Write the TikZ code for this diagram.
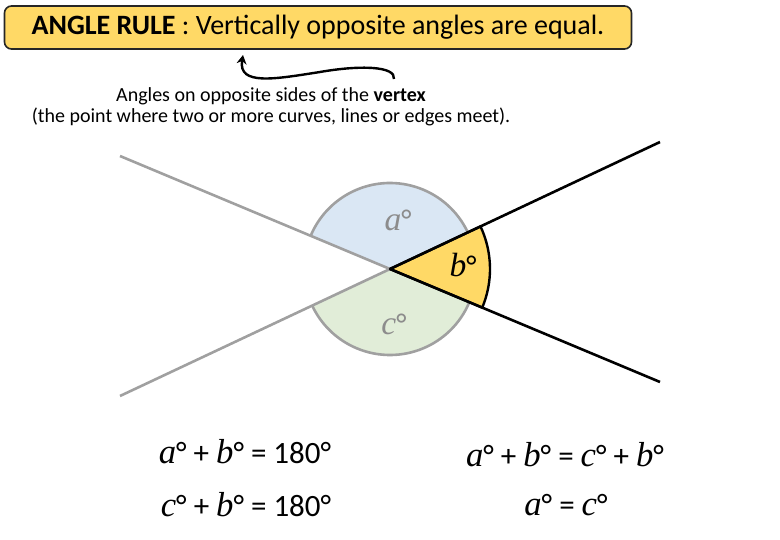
\documentclass[tikz,border=0pt]{standalone}
\usepackage{fontspec}
\setmainfont{Carlito}
\newfontfamily\varfont{Liberation Serif}[Scale=1.12]
\newcommand{\vr}[1]{{\varfont\itshape #1}}
\usetikzlibrary{arrows.meta}
\definecolor{ruleyellow}{HTML}{FFD966}
\definecolor{sectblue}{HTML}{DAE7F4}
\definecolor{sectgreen}{HTML}{E1EDD8}
\definecolor{linegray}{HTML}{A0A0A0}
\definecolor{labelgray}{HTML}{8C8C8C}

\begin{document}
\begin{tikzpicture}[x=1pt,y=-1pt,
		eqn/.style={font=\fontsize{31}{36}\selectfont},
		anglbl/.style={font=\fontsize{30}{34}\selectfont}]
		\useasboundingbox (0,0) rectangle (780,540);
		\coordinate(O) at (390,269);
		\coordinate(A) at (120,156);
		\coordinate(B) at (660,382);
		\coordinate(C) at (120,396);
		\coordinate(D) at (660,142);
		
		\node[draw=black!85,line width=1.6pt,fill=ruleyellow,rounded corners=7pt,minimum width=627pt,minimum height=43pt,font=\fontsize{28}{32}\selectfont](rule) at (318,27.5){\textbf{ANGLE RULE} : Vertically opposite angles are equal.};
		\node[align=center,font=\fontsize{20}{21}\selectfont](note) at (271,107){Angles on opposite sides of the \textbf{vertex}\\(the point where two or more curves, lines or edges meet).};
		\coordinate(S) at (394,79);
		\coordinate(T) at (243,55);
		\draw[line width=2.4pt,-{Stealth[length=9pt,width=10pt]}](S) .. controls (396,66) and (360,65) .. (320,72) .. controls (275,79) and (238,86) .. (T);
		
		\fill[sectblue](O) -- ++(-25.2:86) arc (-25.2:-157.3:86) -- cycle;
		\fill[sectgreen](O) -- ++(22.7:86) arc (22.7:154.8:86) -- cycle;
		\draw[linegray,line width=2.6pt](O) ++(-25.2:86) arc (-25.2:-157.3:86);
		\draw[linegray,line width=2.6pt](O) ++(22.7:86) arc (22.7:154.8:86);
		\draw[linegray,line width=2.6pt](A) -- (O) -- (C);
		\filldraw[fill=ruleyellow,draw=black,line width=2.4pt,line join=round](O) -- ++(-25.2:100) arc (-25.2:22.7:100) -- cycle;
		\draw[black,line width=2.6pt](O) -- (B);
		\draw[black,line width=2.6pt](O) -- (D);
		
		\node[anglbl,labelgray](a) at (398,220){\vr{a}°};
		\node[anglbl](b) at (463,265){\vr{b}°};
		\node[anglbl,labelgray](c) at (394,324){\vr{c}°};
		
		\node[eqn](eq1) at (245,452){\vr{a}° + \vr{b}° = 180°};
		\node[eqn](eq2) at (246,505){\vr{c}° + \vr{b}° = 180°};
		\node[eqn](eq3) at (565,455){\vr{a}° + \vr{b}° = \vr{c}° + \vr{b}°};
		\node[eqn](eq4) at (566,505){\vr{a}° = \vr{c}°};
	\end{tikzpicture}
\end{document}
